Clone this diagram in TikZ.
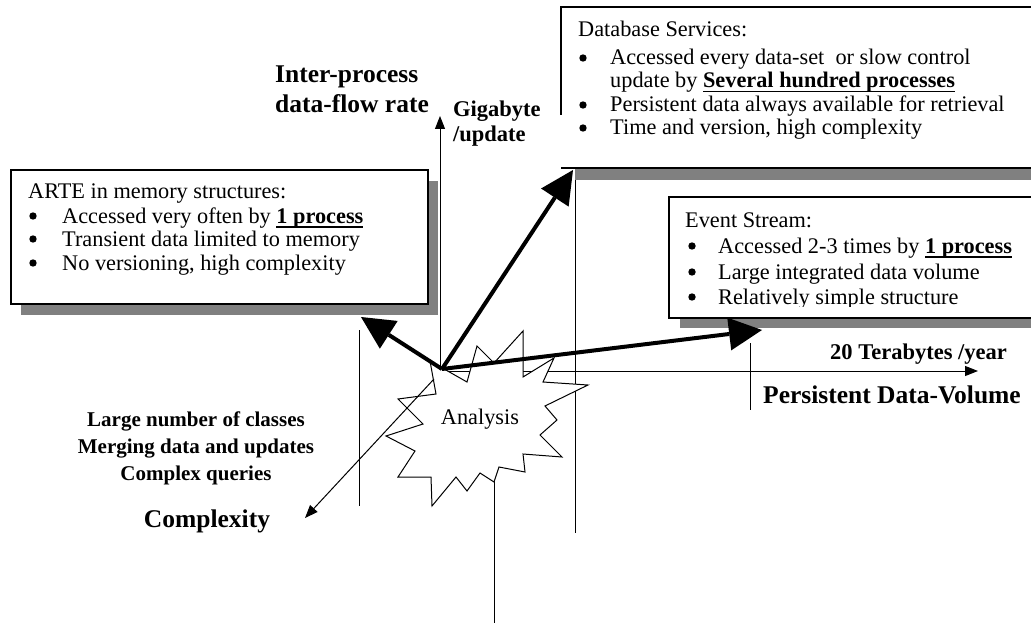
\documentclass[tikz,border=0pt]{standalone}
\usepackage{fontspec}
\setmainfont{Liberation Serif}
\usetikzlibrary{arrows.meta}
\definecolor{shadowgrey}{RGB}{128,128,128}
\newcommand{\myul}[1]{\setbox0\hbox{#1}\rlap{\rule[-4.5pt]{\wd0}{1.8pt}}\box0}
\tikzset{
  boxtext/.style={anchor=base west, inner sep=0pt, font=\fontsize{22.3}{26}\selectfont},
  bulletdot/.style={circle, fill=black, draw=none, inner sep=0pt, minimum size=7.4pt},
  boxframe/.style={draw=black, line width=1.8pt, fill=white, inner sep=0pt, anchor=north west},
  boxshadow/.style={fill=shadowgrey, draw=none},
  biglabel/.style={inner sep=0pt, font=\bfseries\fontsize{25.5}{30}\selectfont},
  smalllabel/.style={inner sep=0pt, font=\bfseries\fontsize{22.5}{26}\selectfont},
  leftlabel/.style={inner sep=0pt, anchor=base, font=\bfseries\fontsize{21}{26}\selectfont},
  thinline/.style={line width=1pt},
  thinarrow/.style={line width=1pt, -{Triangle[length=13pt,width=10pt]}},
  thickarrow/.style={line width=4pt, -{Triangle[length=33pt,width=33pt,line width=0pt]}},
  burst/.style={draw=black, line width=1pt, fill=white, line join=miter}
}
\begin{document}
\begin{tikzpicture}[x=1pt,y=-1pt]
\useasboundingbox (0,0) rectangle (1031,623);
\clip (0,0) rectangle (1031,623);
\fill[white] (0,0) rectangle (1031,623);

% coordinates
\coordinate (origin) at (442,369);
\coordinate (vaxbot) at (440,368);
\coordinate (vaxtop) at (440,116);
\coordinate (haxstart) at (440,371);
\coordinate (haxend) at (978,371);
\coordinate (cplxstart) at (434,379);
\coordinate (cplxend) at (305,518);
\coordinate (artetip) at (361,317);
\coordinate (dbtip) at (573,170);
\coordinate (evtip) at (762,330);

% thin vertical guide lines
\draw[thinline] (359,330) -- (359,506);
\draw[thinline] (575,170) -- (575,533);
\draw[thinline] (750,343) -- (750,410);
\draw[thinline] (494,470) -- (494,623);

% horizontal axis
\draw[thinarrow] (haxstart) -- (haxend);

% starburst
\draw[burst] (523,331) -- (494,363) -- (477,346) -- (467,382) -- (430,361) -- (436,394)
  -- (398,399) -- (423,424) -- (386,436) -- (415,451) -- (398,477) -- (431,477)
  -- (432,506) -- (456,477) -- (467,491) -- (480,473) -- (494,482) -- (499,467)
  -- (525,472) -- (523,454) -- (562,457) -- (540,435) -- (557,420) -- (545,406)
  -- (588,385) -- (543,382) -- (554,358) -- (523,377) -- cycle;
\node[inner sep=0pt, font=\fontsize{22.3}{26}\selectfont] (analysis) at (480,419) {Analysis};

% other axes
\draw[thinarrow] (cplxstart) -- (cplxend);
\draw[thinarrow] (vaxbot) -- (vaxtop);

% ARTE box
\fill[boxshadow] (21,181) rectangle (438,315);
\node[boxframe, minimum width=417pt, minimum height=134pt] (arte) at (10,169) {};
\node[boxtext] (arteT) at (28,198) {ARTE in memory structures:};
\node[bulletdot] (arteB1) at (33,216) {};
\node[boxtext] (arte1) at (62,223) {Accessed very often by \myul{\textbf{1 process}}};
\node[bulletdot] (arteB2) at (33,239) {};
\node[boxtext] (arte2) at (62,246) {Transient data limited to memory};
\node[bulletdot] (arteB3) at (33,263) {};
\node[boxtext] (arte3) at (62,270) {No versioning, high complexity};

% Database box
\fill[boxshadow] (575,169) rectangle (1045,180);
\node[fill=white, inner sep=0pt, anchor=north west, minimum width=484pt, minimum height=161pt] (db) at (561,7) {};
\draw[line width=1.8pt] (db.north east) -- (db.north west) -- ++(0,108);
\draw[line width=1.8pt] (db.south west) -- (db.south east);
\node[boxtext] (dbT) at (578,37) {Database Services:};
\node[bulletdot] (dbB1) at (583,58) {};
\node[boxtext] (db1) at (610,65) {Accessed every data-set \ or slow control};
\node[boxtext] (db1b) at (610,88) {update by \myul{\textbf{Several hundred processes}}};
\node[bulletdot] (dbB2) at (583,105) {};
\node[boxtext] (db2) at (610,112) {Persistent data always available for retrieval};
\node[bulletdot] (dbB3) at (583,128) {};
\node[boxtext] (db3) at (610,135) {Time and version, high complexity};

% Event Stream box
\fill[boxshadow] (680,208) rectangle (1045,328);
\node[boxframe, minimum width=380pt, minimum height=121pt] (ev) at (668,196) {};
\node[boxtext] (evT) at (685,227) {Event Stream:};
\node[bulletdot] (evB1) at (692,246) {};
\node[boxtext] (ev1) at (718,253) {Accessed 2-3 times by \myul{\textbf{1 process}}};
\node[bulletdot] (evB2) at (692,272) {};
\node[boxtext] (ev2) at (718,279) {Large integrated data volume};
\node[bulletdot] (evB3) at (692,297) {};
\node[boxtext] (ev3) at (718,304) {Relatively simple structure};
\fill[white] (669.5,307) rectangle (1045,316);

% labels
\node[biglabel, anchor=base west] (ipA) at (275,83) {Inter-process};
\node[biglabel, anchor=base west] (ipB) at (275,113) {data-flow rate};
\node[smalllabel, anchor=base west] (gig) at (453,117) {Gigabyte};
\node[smalllabel, anchor=base west] (upd) at (453,142) {/update};
\node[smalllabel, anchor=base west] (tby) at (830,359) {20 Terabytes /year};
\node[biglabel, anchor=base west] (pdv) at (763,403) {Persistent Data-Volume};
\node[leftlabel] (cl1) at (196,426) {Large number of classes};
\node[leftlabel] (cl2) at (196,453) {Merging data and updates};
\node[leftlabel] (cl3) at (196,480) {Complex queries};
\node[biglabel, anchor=base] (cplx) at (207,527) {Complexity};

% thick arrows
\draw[thickarrow] (origin) -- (artetip);
\draw[thickarrow] (origin) -- (dbtip);
\draw[thickarrow] (origin) -- (evtip);
\end{tikzpicture}
\end{document}
